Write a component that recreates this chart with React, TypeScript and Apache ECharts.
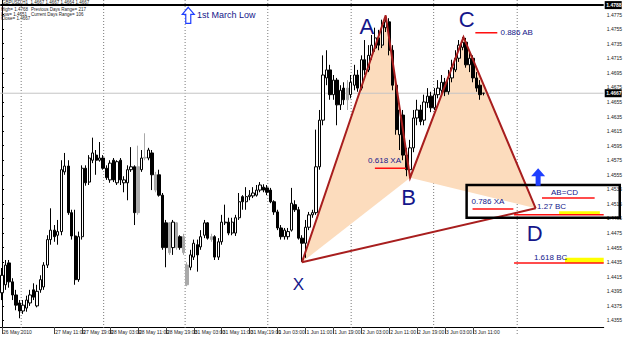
import React, { useEffect, useRef } from 'react';
import * as echarts from 'echarts';

// ---------- data ----------
const timeLabels = [
  '26 May 2010', '27 May 03:00', '27 May 11:00', '27 May 19:00', '28 May 03:00', '28 May 11:00',
  '28 May 19:00', '31 May 03:00', '31 May 11:00', '31 May 19:00', '1 Jun 03:00', '1 Jun 11:00',
  '1 Jun 19:00', '2 Jun 03:00', '2 Jun 11:00', '2 Jun 19:00', '3 Jun 03:00', '3 Jun 11:00',
];
const labelBars = [0, 7, 15, 23, 31, 39, 47, 55, 63, 71, 79, 87, 95, 103, 111, 119, 127, 135];
const barSlots = 173; // H1 bars visible incl. right shift

// [open, close, low, high]
const candles: number[][] = [
  [1.4393, 1.4417, 1.4383, 1.4427], [1.4404, 1.4431, 1.4397, 1.4438], [1.4434, 1.4408, 1.4400, 1.4438],
  [1.4408, 1.4390, 1.4383, 1.4413], [1.4390, 1.4376, 1.4369, 1.4397], [1.4379, 1.4368, 1.4358, 1.4383],
  [1.4368, 1.4376, 1.4364, 1.4383], [1.4372, 1.4383, 1.4367, 1.4389], [1.4379, 1.4390, 1.4375, 1.4397],
  [1.4397, 1.4387, 1.4383, 1.4406], [1.4375, 1.4395, 1.4373, 1.4404], [1.4397, 1.4411, 1.4393, 1.4417],
  [1.4401, 1.4431, 1.4397, 1.4435], [1.4431, 1.4466, 1.4427, 1.4472], [1.4466, 1.4479, 1.4459, 1.4509],
  [1.4479, 1.4470, 1.4463, 1.4486], [1.4472, 1.4477, 1.4459, 1.4493], [1.4477, 1.4562, 1.4472, 1.4575],
  [1.4559, 1.4567, 1.4555, 1.4585], [1.4567, 1.4503, 1.4500, 1.4575], [1.4503, 1.4471, 1.4466, 1.4507],
  [1.4471, 1.4411, 1.4404, 1.4507], [1.4411, 1.4470, 1.4408, 1.4477], [1.4470, 1.4564, 1.4466, 1.4568],
  [1.4564, 1.4544, 1.4540, 1.4568], [1.4545, 1.4578, 1.4541, 1.4582], [1.4575, 1.4585, 1.4571, 1.4606],
  [1.4582, 1.4575, 1.4555, 1.4589], [1.4575, 1.4578, 1.4573, 1.4600], [1.4578, 1.4564, 1.4562, 1.4582],
  [1.4564, 1.4551, 1.4548, 1.4568], [1.4548, 1.4571, 1.4544, 1.4575], [1.4575, 1.4548, 1.4545, 1.4578],
  [1.4544, 1.4573, 1.4541, 1.4575], [1.4575, 1.4548, 1.4541, 1.4578], [1.4544, 1.4548, 1.4531, 1.4553],
  [1.4544, 1.4562, 1.4520, 1.4568], [1.4562, 1.4566, 1.4559, 1.4593], [1.4566, 1.4503, 1.4486, 1.4568],
  [1.4503, 1.4566, 1.4500, 1.4595], [1.4562, 1.4578, 1.4559, 1.4589], [1.4578, 1.4579, 1.4575, 1.4612],
  [1.4578, 1.4589, 1.4575, 1.4592], [1.4585, 1.4555, 1.4534, 1.4589], [1.4555, 1.4534, 1.4531, 1.4559],
  [1.4555, 1.4527, 1.4525, 1.4562], [1.4527, 1.4455, 1.4452, 1.4530], [1.4489, 1.4455, 1.4428, 1.4493],
  [1.4489, 1.4448, 1.4445, 1.4490], [1.4455, 1.4490, 1.4445, 1.4493], [1.4489, 1.4455, 1.4452, 1.4490],
  [1.4470, 1.4455, 1.4452, 1.4472], [1.4470, 1.4448, 1.4445, 1.4474], [1.4431, 1.4404, 1.4402, 1.4435],
  [1.4428, 1.4445, 1.4424, 1.4452], [1.4442, 1.4461, 1.4438, 1.4466], [1.4459, 1.4445, 1.4422, 1.4466],
  [1.4456, 1.4470, 1.4452, 1.4479], [1.4472, 1.4489, 1.4468, 1.4493], [1.4489, 1.4468, 1.4466, 1.4490],
  [1.4470, 1.4466, 1.4463, 1.4474], [1.4470, 1.4442, 1.4438, 1.4472], [1.4442, 1.4463, 1.4438, 1.4468],
  [1.4463, 1.4490, 1.4459, 1.4500], [1.4489, 1.4490, 1.4486, 1.4514], [1.4490, 1.4475, 1.4472, 1.4496],
  [1.4475, 1.4490, 1.4472, 1.4496], [1.4475, 1.4496, 1.4471, 1.4500], [1.4496, 1.4518, 1.4493, 1.4530],
  [1.4525, 1.4518, 1.4507, 1.4527], [1.4518, 1.4525, 1.4507, 1.4538], [1.4525, 1.4527, 1.4520, 1.4534],
  [1.4526, 1.4530, 1.4523, 1.4538], [1.4527, 1.4534, 1.4525, 1.4541], [1.4534, 1.4541, 1.4531, 1.4545],
  [1.4538, 1.4534, 1.4531, 1.4542], [1.4537, 1.4531, 1.4527, 1.4541], [1.4534, 1.4518, 1.4516, 1.4537],
  [1.4518, 1.4504, 1.4500, 1.4520], [1.4504, 1.4482, 1.4479, 1.4507], [1.4482, 1.4470, 1.4466, 1.4486],
  [1.4470, 1.4479, 1.4466, 1.4482], [1.4470, 1.4477, 1.4466, 1.4482], [1.4479, 1.4516, 1.4477, 1.4537],
  [1.4514, 1.4507, 1.4504, 1.4520], [1.4507, 1.4468, 1.4466, 1.4511], [1.4468, 1.4461, 1.4435, 1.4472],
  [1.4461, 1.4483, 1.4441, 1.4493], [1.4483, 1.4500, 1.4479, 1.4504], [1.4500, 1.4503, 1.4496, 1.4507],
  [1.4503, 1.4566, 1.4500, 1.4617], [1.4566, 1.4630, 1.4562, 1.4644], [1.4630, 1.4692, 1.4623, 1.4719],
  [1.4688, 1.4699, 1.4678, 1.4726], [1.4699, 1.4665, 1.4658, 1.4706], [1.4665, 1.4685, 1.4658, 1.4692],
  [1.4685, 1.4651, 1.4623, 1.4688], [1.4651, 1.4671, 1.4644, 1.4678], [1.4674, 1.4658, 1.4651, 1.4682],
  [1.4658, 1.4674, 1.4644, 1.4685], [1.4665, 1.4682, 1.4660, 1.4692], [1.4678, 1.4692, 1.4671, 1.4706],
  [1.4692, 1.4674, 1.4669, 1.4699], [1.4674, 1.4713, 1.4671, 1.4719], [1.4713, 1.4699, 1.4692, 1.4740],
  [1.4699, 1.4719, 1.4696, 1.4733], [1.4719, 1.4733, 1.4713, 1.4747], [1.4729, 1.4743, 1.4724, 1.4757],
  [1.4743, 1.4733, 1.4726, 1.4754], [1.4733, 1.4761, 1.4729, 1.4768], [1.4757, 1.4765, 1.4751, 1.4774],
  [1.4765, 1.4726, 1.4719, 1.4770], [1.4726, 1.4678, 1.4671, 1.4733], [1.4678, 1.4617, 1.4610, 1.4685],
  [1.4610, 1.4644, 1.4589, 1.4651], [1.4637, 1.4582, 1.4575, 1.4644], [1.4582, 1.4562, 1.4553, 1.4592],
  [1.4562, 1.4592, 1.4551, 1.4603], [1.4592, 1.4633, 1.4586, 1.4644], [1.4633, 1.4644, 1.4623, 1.4658],
  [1.4644, 1.4628, 1.4623, 1.4651], [1.4630, 1.4655, 1.4623, 1.4665], [1.4654, 1.4663, 1.4647, 1.4674],
  [1.4663, 1.4647, 1.4641, 1.4669], [1.4647, 1.4665, 1.4644, 1.4674], [1.4665, 1.4674, 1.4660, 1.4685],
  [1.4671, 1.4682, 1.4665, 1.4692], [1.4682, 1.4669, 1.4663, 1.4688], [1.4669, 1.4688, 1.4665, 1.4699],
  [1.4688, 1.4702, 1.4682, 1.4713], [1.4699, 1.4715, 1.4696, 1.4726], [1.4715, 1.4733, 1.4710, 1.4740],
  [1.4730, 1.4737, 1.4726, 1.4744], [1.4737, 1.4706, 1.4702, 1.4743], [1.4706, 1.4715, 1.4696, 1.4726],
  [1.4715, 1.4688, 1.4682, 1.4719], [1.4688, 1.4674, 1.4669, 1.4696], [1.4678, 1.4665, 1.4658, 1.4685],
  [1.4667, 1.4667, 1.4664, 1.4667],
];
const grayBars = [39, 41, 44, 48, 50, 52, 53, 60, 99];

const yMin = 1.4346;
const yMax = 1.4795;
const yTicks = [
  1.4355, 1.4375, 1.4395, 1.4415, 1.4435, 1.4455, 1.4475, 1.4495, 1.4515, 1.4535, 1.4555,
  1.4575, 1.4595, 1.4615, 1.4635, 1.4655, 1.4675, 1.4695, 1.4715, 1.4735, 1.4755, 1.4775,
];
const bidPrice = 1.4667;
const topLinePrice = 1.4788;
const gridBars = [5.5, 29.15, 52.5, 76.2, 100.1, 123.75, 147.7];

// XABCD pattern points (bar index, price)
const patternBar = [86, 110, 117, 132.3, 153];
const patternPrice = [1.4435, 1.4774, 1.4551, 1.4744, 1.4509];
const letterText = ['X', 'A', 'B', 'C', 'D'];
const letterBar = [85.0, 104.6, 116.6, 133.2, 152.7];
const letterPrice = [1.4405, 1.4758, 1.4524, 1.4768, 1.4474];

// Fibonacci levels
const fibText = ['0.618 XA', '0.786 XA', 'AB=CD', '1.27 BC', '1.618 BC', '0.886 AB'];
const fibPrice = [1.4564, 1.4508, 1.4523, 1.4500, 1.4434, 1.4750];
const fibFrom = [106.9, 134.9, 154.8, 146.8, 146.8, 135.7];
const fibTo = [115.8, 146.6, 169.9, 172.5, 172.5, 142.0];
const fibTextBar = [104.95, 134.6, 157.4, 153.4, 152.5, 142.9];
const fibTextPrice = [1.4574, 1.4518, 1.4530, 1.4511, 1.4442, 1.4750];
const zoneFrom = [159.7, 161.4];
const zoneTo = [171.4, 172.5];
const zoneHigh = [1.4505, 1.4441];
const zoneLow = [1.4500, 1.4434];
const boxBars = [133.2, 177.1];
const boxPrices = [1.4541, 1.4496];
const upArrow = { bar: 153.7, tip: 1.4564, base: 1.4540 };
const marchArrow = { bar: 53.4, tip: 1.4785, base: 1.4763 };
const marchText = { bar: 55.9, price: 1.4774, text: '1st March Low' };

const FONT = '"Liberation Sans", Arial, sans-serif';
const NAVY = '#14168a';

export default function App() {
  const ref = useRef<HTMLDivElement>(null);

  useEffect(() => {
    if (!ref.current) return;
    const chart = echarts.init(ref.current, null, { renderer: 'svg' });

    const categories: string[] = [];
    for (let i = 0; i < barSlots; i++) {
      const k = labelBars.indexOf(i);
      categories.push(k >= 0 ? timeLabels[k] : 'bar' + i);
    }
    const showLabel = (index: number) => labelBars.indexOf(index) >= 0;

    const candleData = candles.map((c, i) =>
      grayBars.indexOf(i) >= 0
        ? {
            value: c,
            itemStyle: { color: '#a9a9a9', color0: '#a9a9a9', borderColor: '#a9a9a9', borderColor0: '#a9a9a9' },
          }
        : c
    );

    const txt = (x: number, y: number, text: string, size: number, fill: string, align = 'left') => ({
      type: 'text',
      x,
      y,
      style: {
        text,
        fill,
        font: `${size}px ${FONT}`,
        align,
        textAlign: align,
        verticalAlign: 'middle',
        textVerticalAlign: 'middle',
      },
    });

    // horizontal line across the plot with a price box on the axis
    const hLine = (c: any, price: number, stroke: string, width: number, children: any[]) => {
      const a = c(-0.5, price);
      const b = c(barSlots - 0.5, price);
      children.push({
        type: 'line',
        shape: { x1: a[0], y1: a[1], x2: b[0], y2: b[1] },
        style: { stroke, lineWidth: width },
      });
      children.push({
        type: 'rect',
        shape: { x: b[0] + 1, y: b[1] - 4, width: 17, height: 8 },
        style: { fill: '#000' },
      });
      children.push({
        type: 'text',
        x: b[0] + 2.5,
        y: b[1],
        style: {
          text: price.toFixed(4), fill: '#fff', font: `bold 5px ${FONT}`,
          align: 'left', textAlign: 'left', verticalAlign: 'middle', textVerticalAlign: 'middle',
        },
      });
    };

    const option: any = {
      animation: false,
      backgroundColor: '#ffffff',
      grid: { left: 0, right: 18, top: 0, bottom: 10, containLabel: false },
      xAxis: [
        {
          type: 'category',
          data: categories,
          boundaryGap: true,
          axisLine: { show: true, lineStyle: { color: '#000', width: 1 } },
          axisTick: { show: true, interval: showLabel, alignWithLabel: true, length: 7, lineStyle: { color: '#444' } },
          axisLabel: {
            interval: showLabel,
            showMinLabel: true,
            formatter: (v: string) => v,
            align: 'left',
            margin: 2,
            fontSize: 5,
            color: '#222',
            fontFamily: FONT,
            padding: [0, 0, 0, 1],
          },
          splitLine: { show: false },
        },
        { type: 'value', min: -0.5, max: barSlots - 0.5, show: false },
      ],
      yAxis: {
        type: 'value',
        position: 'right',
        min: yMin,
        max: yMax,
        scale: true,
        axisLine: { show: true, lineStyle: { color: '#000', width: 1 } },
        axisTick: { show: true, length: 2, customValues: yTicks, lineStyle: { color: '#000' } },
        axisLabel: {
          customValues: yTicks,
          formatter: (v: number) => v.toFixed(4),
          fontSize: 5,
          color: '#222',
          fontFamily: FONT,
          margin: 3,
        },
        splitLine: { show: false },
      },
      graphic: [
        { type: 'text', left: 2, top: 0, style: { text: 'GBPUSD,H1  1.4667 1.4667 1.4664 1.4667', fill: '#222', font: `4.5px ${FONT}` } },
        { type: 'text', left: 1, top: 7, style: { text: 'High= 1.4768', fill: '#222', font: `4.5px ${FONT}` } },
        { type: 'text', left: 31, top: 7, style: { text: 'Previous Days Range= 217', fill: '#222', font: `4.5px ${FONT}` } },
        { type: 'text', left: 1, top: 11.5, style: { text: 'Low= 1.4651', fill: '#222', font: `4.5px ${FONT}` } },
        { type: 'text', left: 31, top: 11.5, style: { text: 'Current Days Range= 106', fill: '#222', font: `4.5px ${FONT}` } },
        { type: 'text', left: 1, top: 16, style: { text: 'Close= 1.4667', fill: '#222', font: `4.5px ${FONT}` } },
      ],
      series: [
        {
          type: 'custom',
          name: 'background',
          xAxisIndex: 1,
          yAxisIndex: 0,
          z: 1,
          silent: true,
          encode: { x: 0, y: 1 },
          data: [[100, 1.46]],
          renderItem: (_p: any, api: any) => {
            const c = (b: number, pr: number) => api.coord([b, pr]);
            const children: any[] = [];
            gridBars.forEach((g) => {
              const top = c(g, yMax);
              const bot = c(g, yMin);
              children.push({
                type: 'line',
                shape: { x1: top[0], y1: top[1], x2: bot[0], y2: bot[1] + 8 },
                style: { stroke: '#7a7a7a', lineWidth: 1, lineDash: [1, 2] },
              });
            });
            const P = patternBar.map((b, i) => c(b, patternPrice[i]));
            children.push({ type: 'polygon', shape: { points: [P[0], P[1], P[2]] }, style: { fill: '#fcdcbd' } });
            children.push({ type: 'polygon', shape: { points: [P[2], P[3], P[4]] }, style: { fill: '#fcdcbd' } });
            hLine(c, bidPrice, '#c4c4c4', 1, children);
            return { type: 'group', children };
          },
        },
        {
          type: 'candlestick',
          name: 'GBPUSD,H1',
          xAxisIndex: 0,
          yAxisIndex: 0,
          z: 2,
          barWidth: 2.8,
          data: candleData,
          itemStyle: { color: '#ffffff', color0: '#000000', borderColor: '#000000', borderColor0: '#000000', borderWidth: 1 },
        },
        {
          type: 'custom',
          name: 'drawings',
          xAxisIndex: 1,
          yAxisIndex: 0,
          z: 5,
          silent: true,
          encode: { x: 0, y: 1 },
          data: [[100, 1.46]],
          renderItem: (_p: any, api: any) => {
            const c = (b: number, pr: number) => api.coord([b, pr]);
            const children: any[] = [];
            hLine(c, topLinePrice, '#000', 2, children);
            const P = patternBar.map((b, i) => c(b, patternPrice[i]));
            // pattern legs
            children.push({
              type: 'polyline',
              shape: { points: P },
              style: { stroke: '#a81e1e', lineWidth: 2, fill: null },
            });
            children.push({
              type: 'line',
              shape: { x1: P[0][0], y1: P[0][1], x2: P[4][0], y2: P[4][1] },
              style: { stroke: '#a81e1e', lineWidth: 2 },
            });
            // yellow zones
            zoneFrom.forEach((z, i) => {
              const a = c(z, zoneHigh[i]);
              const b = c(zoneTo[i], zoneLow[i]);
              children.push({
                type: 'rect',
                shape: { x: a[0], y: a[1], width: b[0] - a[0], height: b[1] - a[1] },
                style: { fill: '#ffff00' },
              });
            });
            // fib lines & texts
            fibText.forEach((t, i) => {
              const a = c(fibFrom[i], fibPrice[i]);
              const b = c(fibTo[i], fibPrice[i]);
              children.push({
                type: 'line',
                shape: { x1: a[0], y1: a[1], x2: b[0], y2: b[1] },
                style: { stroke: '#ff1010', lineWidth: 1.5 },
              });
              const tp = c(fibTextBar[i], fibTextPrice[i]);
              children.push(txt(tp[0], tp[1], t, 8, NAVY));
            });
            // box
            const b1 = c(boxBars[0], boxPrices[0]);
            const b2 = c(boxBars[1], boxPrices[1]);
            children.push({
              type: 'rect',
              shape: { x: b1[0], y: b1[1], width: b2[0] - b1[0], height: b2[1] - b1[1] },
              style: { fill: null, stroke: '#000', lineWidth: 2.5 },
            });
            // blue filled arrow
            const at = c(upArrow.bar, upArrow.tip);
            const ab = c(upArrow.bar, upArrow.base);
            const hx = 7, hh = 8, sw = 2.5;
            children.push({
              type: 'polygon',
              shape: {
                points: [
                  [at[0], at[1]], [at[0] + hx, at[1] + hh], [at[0] + sw, at[1] + hh], [at[0] + sw, ab[1]],
                  [at[0] - sw, ab[1]], [at[0] - sw, at[1] + hh], [at[0] - hx, at[1] + hh],
                ],
              },
              style: { fill: '#1f3fff' },
            });
            // 1st March Low arrow (outline)
            const mt = c(marchArrow.bar, marchArrow.tip);
            const mb = c(marchArrow.bar, marchArrow.base);
            const mhx = 6, mhh = 7, msw = 2.5;
            children.push({
              type: 'polygon',
              shape: {
                points: [
                  [mt[0], mt[1]], [mt[0] + mhx, mt[1] + mhh], [mt[0] + msw, mt[1] + mhh], [mt[0] + msw, mb[1]],
                  [mt[0] - msw, mb[1]], [mt[0] - msw, mt[1] + mhh], [mt[0] - mhx, mt[1] + mhh],
                ],
              },
              style: { fill: '#ffffff', stroke: '#1f3fff', lineWidth: 1.2 },
            });
            const mtp = c(marchText.bar, marchText.price);
            children.push(txt(mtp[0], mtp[1], marchText.text, 9, NAVY));
            // letters
            letterText.forEach((t, i) => {
              const p = c(letterBar[i], letterPrice[i]);
              children.push(txt(p[0], p[1], t, t === 'X' ? 17 : 22, NAVY, 'center'));
            });
            return { type: 'group', children };
          },
        },
      ],
    };

    chart.setOption(option);
    return () => chart.dispose();
  }, []);

  return (
    <div
      ref={ref}
      style={{ position: 'absolute', left: 0, top: 0, width: 625, height: 337, background: '#fff' }}
    />
  );
}
